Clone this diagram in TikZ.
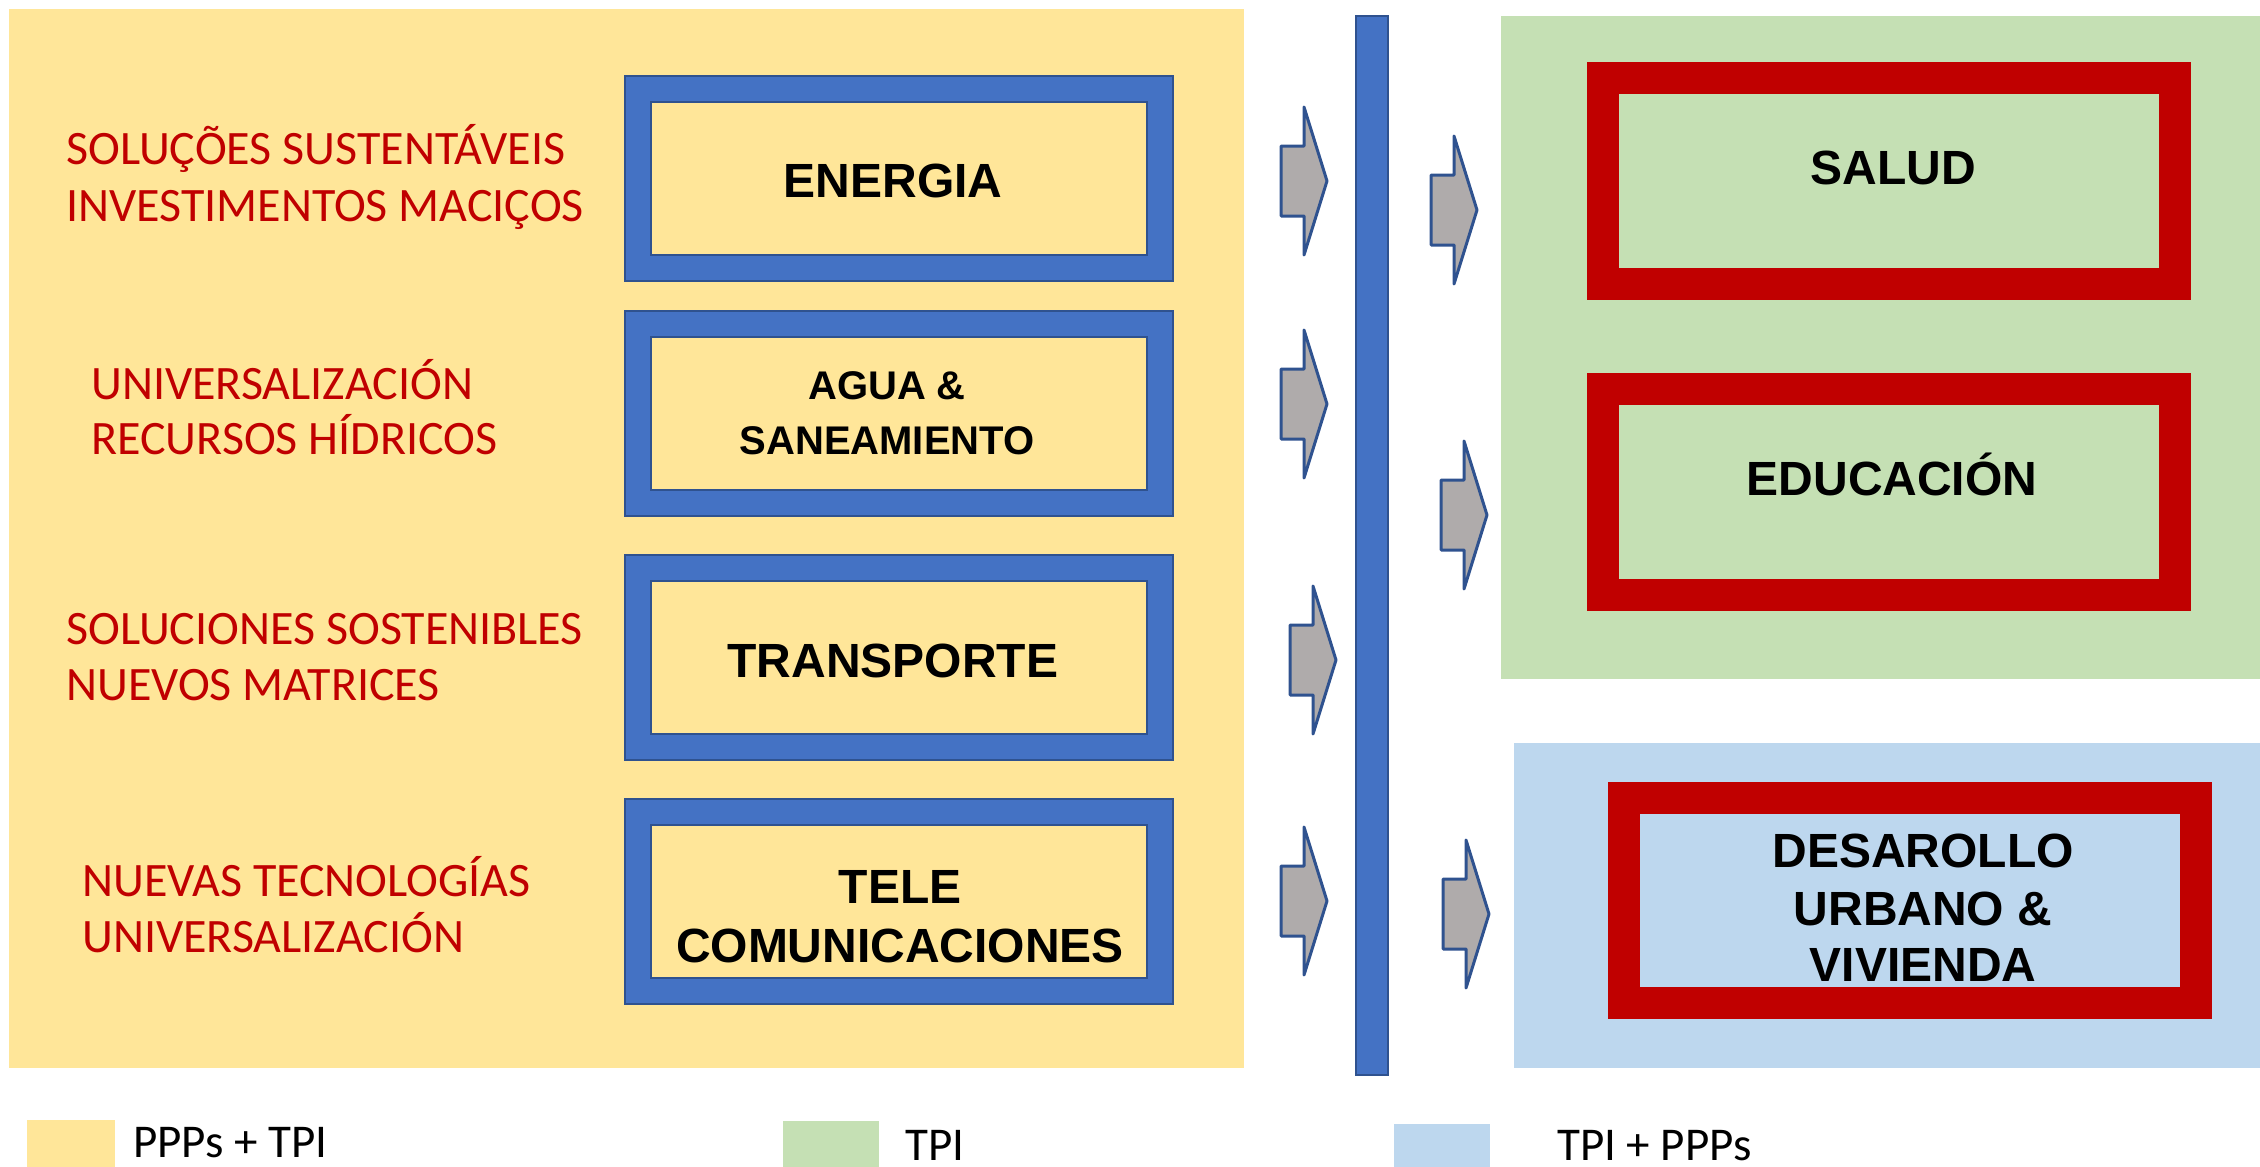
\documentclass[tikz,border=0pt]{standalone}
\usepackage{fontspec}
\newfontfamily\calibri{Carlito}
\newfontfamily\arialf{Liberation Sans}
\definecolor{ylw}{HTML}{FFE699}
\definecolor{grn}{HTML}{C5E0B4}
\definecolor{lbl}{HTML}{BDD7EE}
\definecolor{bbox}{HTML}{4472C4}
\definecolor{bdark}{HTML}{2F528F}
\definecolor{rbox}{HTML}{C00000}
\definecolor{garr}{HTML}{AFABAB}
\begin{document}
\begin{tikzpicture}[x=1pt,y=-1pt,
  panel/.style={rectangle,inner sep=0,outer sep=0,draw=none},
  bouter/.style={rectangle,inner sep=0,fill=bbox,draw=bdark,line width=2,minimum width=548,minimum height=205},
  binner/.style={rectangle,inner sep=0,fill=ylw,draw=bdark,line width=2,minimum width=496,minimum height=153},
  router/.style={rectangle,inner sep=0,fill=rbox,draw=none,minimum width=604,minimum height=238},
  rinnerg/.style={rectangle,inner sep=0,fill=grn,draw=none,minimum width=540,minimum height=174},
  rinnerb/.style={rectangle,inner sep=0,fill=lbl,draw=none,minimum width=540,minimum height=173},
  redtxt/.style={inner sep=0,anchor=base west,text=rbox,font=\calibri\fontsize{48}{57}\selectfont},
  boxtxt/.style={inner sep=0,anchor=base,text=black,font=\arialf\bfseries\fontsize{48}{57}\selectfont},
  smalltxt/.style={inner sep=0,anchor=base,text=black,font=\arialf\bfseries\fontsize{40}{48}\selectfont},
  legtxt/.style={inner sep=0,anchor=base west,text=black,font=\calibri\fontsize{47}{56}\selectfont},
  arrowstyle/.style={fill=garr,draw=bdark,line width=3,line join=round},
  garrow/.pic={\draw[arrowstyle] (-46,-35) -- (-23,-35) -- (-23,-74) -- (0,0) -- (-23,74) -- (-23,35) -- (-46,35) -- cycle;}
]
\useasboundingbox (0,0) rectangle (2260,1167);

% background panels
\node[panel,fill=ylw,minimum width=1235,minimum height=1059] (pppbg) at (626.5,538.5) {};
\node[panel,fill=grn,minimum width=759,minimum height=663] (tpibg) at (1880.5,347.5) {};
\node[panel,fill=lbl,minimum width=746,minimum height=325] (tpipppbg) at (1887,905.5) {};

% vertical bar
\node[rectangle,inner sep=0,fill=bbox,draw=bdark,line width=1.5,minimum width=32,minimum height=1059] (bar) at (1372,545.5) {};

% blue boxes
\node[bouter] (b1o) at (899,178.5) {};
\node[binner] (b1i) at (899,178.5) {};
\node[bouter] (b2o) at (899,413) {};
\node[binner] (b2i) at (899,413) {};
\node[bouter] (b3o) at (899,657) {};
\node[binner] (b3i) at (899,657) {};
\node[bouter] (b4o) at (899,901.5) {};
\node[binner] (b4i) at (899,901.5) {};

\node[boxtxt] (t1) at (893,197) {ENERGIA};
\node[smalltxt] (t2a) at (887,399) {AGUA \&};
\node[smalltxt] (t2b) at (887,454) {SANEAMIENTO};
\node[boxtxt] (t3) at (893,677) {TRANSPORTE};
\node[boxtxt] (t4a) at (900,903) {TELE};
\node[boxtxt] (t4b) at (900,962) {COMUNICACIONES};

% red boxes
\node[router] (r1o) at (1889,181) {};
\node[rinnerg] (r1i) at (1889,181) {};
\node[router] (r2o) at (1889,492) {};
\node[rinnerg] (r2i) at (1889,492) {};
\node[router,minimum height=237] (r3o) at (1910,900.5) {};
\node[rinnerb] (r3i) at (1910,900.5) {};

\node[boxtxt] (s1) at (1893,184) {SALUD};
\node[boxtxt] (s2) at (1892,495) {EDUCACIÓN};
\node[boxtxt] (s3a) at (1923,867) {DESAROLLO};
\node[boxtxt] (s3b) at (1923,925) {URBANO \&};
\node[boxtxt] (s3c) at (1923,981) {VIVIENDA};

% left red texts
\node[redtxt] (l1a) at (66,164) {SOLUÇÕES SUSTENTÁVEIS};
\node[redtxt] (l1b) at (66,221) {INVESTIMENTOS MACIÇOS};
\node[redtxt] (l2a) at (91,399) {UNIVERSALIZACIÓN};
\node[redtxt] (l2b) at (91,454) {RECURSOS HÍDRICOS};
\node[redtxt] (l3a) at (66,644) {SOLUCIONES SOSTENIBLES};
\node[redtxt] (l3b) at (66,700) {NUEVOS MATRICES};
\node[redtxt] (l4a) at (82,896) {NUEVAS TECNOLOGÍAS};
\node[redtxt] (l4b) at (82,952) {UNIVERSALIZACIÓN};

% block arrows
\coordinate (a1) at (1327,181);
\coordinate (a2) at (1327,404);
\coordinate (a3) at (1336,660);
\coordinate (a4) at (1327,901);
\coordinate (c1) at (1477,210);
\coordinate (c2) at (1487,515);
\coordinate (c3) at (1489,914);
\foreach \p in {a1,a2,a3,a4,c1,c2,c3} { \pic at (\p) {garrow}; }

% legend
\node[panel,fill=ylw,minimum width=88,minimum height=47] (lg1) at (71,1143.5) {};
\node[legtxt] (lt1) at (133,1157) {PPPs + TPI};
\node[panel,fill=grn,minimum width=96,minimum height=46] (lg2) at (831,1144) {};
\node[legtxt] (lt2) at (905,1160) {TPI};
\node[panel,fill=lbl,minimum width=96,minimum height=43] (lg3) at (1442,1145.5) {};
\node[legtxt] (lt3) at (1557,1160) {TPI + PPPs};
\end{tikzpicture}
\end{document}
